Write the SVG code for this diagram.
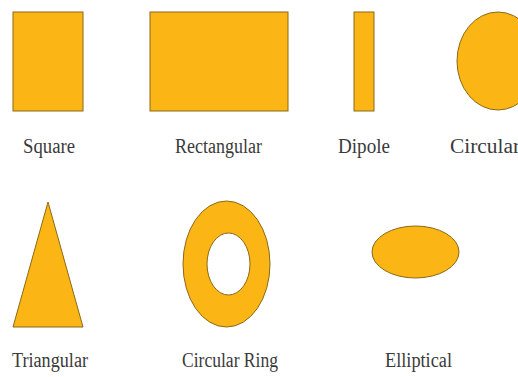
<svg xmlns="http://www.w3.org/2000/svg" width="518" height="377" viewBox="0 0 518 377">
<style>
.s{fill:#FBB515;stroke:#8a6a18;stroke-width:1}
.t{font-family:"Liberation Serif","Times New Roman",serif;font-size:20px;fill:#3a3a3a;text-anchor:start}
</style>
<rect width="518" height="377" fill="#fff"/>
<g id="square"><rect class="s" x="13" y="12" width="70" height="99"/><text class="t" x="23" y="153" textLength="52" lengthAdjust="spacingAndGlyphs">Square</text></g>
<g id="rectangular"><rect class="s" x="150" y="12" width="138" height="99"/><text class="t" x="175" y="153" textLength="87" lengthAdjust="spacingAndGlyphs">Rectangular</text></g>
<g id="dipole"><rect class="s" x="354" y="12" width="20" height="99"/><text class="t" x="338" y="153" textLength="52" lengthAdjust="spacingAndGlyphs">Dipole</text></g>
<g id="circular"><ellipse class="s" cx="498" cy="61" rx="41" ry="49"/><text class="t" x="450" y="153" textLength="70" lengthAdjust="spacingAndGlyphs">Circular</text></g>
<g id="triangular"><polygon class="s" points="48,202 83,327 13,327"/><text class="t" x="12" y="367" textLength="76" lengthAdjust="spacingAndGlyphs">Triangular</text></g>
<g id="circular-ring"><path class="s" fill-rule="evenodd" d="M183,264 a43.5,63 0 1,0 87,0 a43.5,63 0 1,0 -87,0 Z M207,264 a21.5,31 0 1,0 43,0 a21.5,31 0 1,0 -43,0 Z"/><text class="t" x="182" y="367" textLength="96" lengthAdjust="spacingAndGlyphs">Circular Ring</text></g>
<g id="elliptical"><ellipse class="s" cx="415.5" cy="252" rx="43.5" ry="26"/><text class="t" x="385" y="367" textLength="67" lengthAdjust="spacingAndGlyphs">Elliptical</text></g>
<g id="connectors"></g>
</svg>
